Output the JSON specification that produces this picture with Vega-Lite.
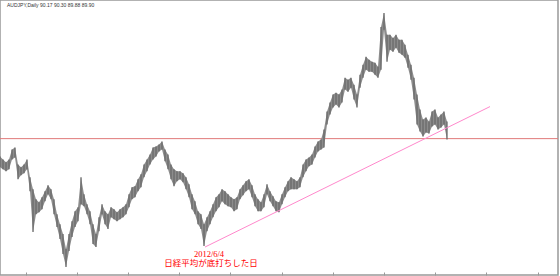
{
  "$schema": "https://vega.github.io/schema/vega-lite/v6.json",
  "width": 560,
  "height": 276,
  "autosize": {"type": "fit", "contains": "padding"},
  "padding": {"left": -1, "top": 0, "right": 1, "bottom": 0},
  "background": "white",
  "config": {"view": {"stroke": "#999999", "strokeWidth": 1.5}},
  "datasets": {
    "bars": [
      {"bar":0,"hi":86.45,"lo":85.01},{"bar":3,"hi":86.06,"lo":84.75},{"bar":6,"hi":85.67,"lo":84.48},{"bar":9,"hi":86.06,"lo":84.75},
      {"bar":12,"hi":87.38,"lo":86.06},{"bar":15,"hi":87.64,"lo":86.32},{"bar":18,"hi":85.40,"lo":83.43},{"bar":21,"hi":85.01,"lo":83.96},
      {"bar":24,"hi":85.40,"lo":84.22},{"bar":27,"hi":86.06,"lo":84.75},{"bar":30,"hi":83.69,"lo":81.85},{"bar":33,"hi":82.12,"lo":76.46},
      {"bar":36,"hi":80.80,"lo":78.83},{"bar":39,"hi":80.41,"lo":79.09},{"bar":42,"hi":81.06,"lo":79.49},{"bar":45,"hi":81.85,"lo":80.54},
      {"bar":48,"hi":82.64,"lo":81.46},{"bar":51,"hi":82.12,"lo":80.80},{"bar":54,"hi":80.80,"lo":78.83},{"bar":57,"hi":78.83,"lo":77.12},
      {"bar":60,"hi":77.51,"lo":75.54},{"bar":63,"hi":76.20,"lo":73.57},{"bar":66,"hi":74.23,"lo":71.86},{"bar":69,"hi":76.20,"lo":73.96},
      {"bar":72,"hi":77.91,"lo":75.80},{"bar":75,"hi":79.22,"lo":77.12},{"bar":78,"hi":79.75,"lo":77.91},{"bar":81,"hi":83.69,"lo":80.14},
      {"bar":84,"hi":81.46,"lo":79.88},{"bar":87,"hi":80.14,"lo":78.83},{"bar":90,"hi":79.22,"lo":77.51},{"bar":93,"hi":77.51,"lo":74.88},
      {"bar":96,"hi":76.20,"lo":74.49},{"bar":99,"hi":78.43,"lo":76.59},{"bar":102,"hi":80.14,"lo":78.83},{"bar":105,"hi":79.22,"lo":77.51},
      {"bar":108,"hi":78.83,"lo":76.86},{"bar":111,"hi":79.75,"lo":78.43},{"bar":114,"hi":79.49,"lo":78.17},{"bar":117,"hi":79.09,"lo":77.91},
      {"bar":120,"hi":79.49,"lo":78.17},{"bar":123,"hi":79.75,"lo":78.43},{"bar":126,"hi":80.14,"lo":78.83},{"bar":129,"hi":81.46,"lo":79.75},
      {"bar":132,"hi":82.38,"lo":80.80},{"bar":135,"hi":82.51,"lo":81.06},{"bar":138,"hi":83.43,"lo":81.85},{"bar":141,"hi":84.09,"lo":82.38},
      {"bar":144,"hi":85.40,"lo":83.69},{"bar":147,"hi":86.06,"lo":84.48},{"bar":150,"hi":86.72,"lo":85.40},{"bar":153,"hi":87.64,"lo":86.06},
      {"bar":156,"hi":87.77,"lo":86.45},{"bar":159,"hi":88.03,"lo":87.11},{"bar":162,"hi":88.43,"lo":87.38},{"bar":165,"hi":87.38,"lo":85.80},
      {"bar":168,"hi":86.72,"lo":84.75},{"bar":171,"hi":85.40,"lo":83.43},{"bar":174,"hi":84.75,"lo":82.51},{"bar":177,"hi":84.48,"lo":83.17},
      {"bar":180,"hi":84.48,"lo":83.43},{"bar":183,"hi":84.22,"lo":83.04},{"bar":186,"hi":83.69,"lo":82.12},{"bar":189,"hi":82.77,"lo":81.06},
      {"bar":192,"hi":81.46,"lo":79.49},{"bar":195,"hi":80.54,"lo":78.83},{"bar":198,"hi":79.22,"lo":77.51},{"bar":201,"hi":78.83,"lo":76.86},
      {"bar":204,"hi":77.51,"lo":74.62},{"bar":207,"hi":78.43,"lo":76.59},{"bar":210,"hi":79.22,"lo":77.51},{"bar":213,"hi":80.14,"lo":78.43},
      {"bar":216,"hi":81.06,"lo":79.22},{"bar":219,"hi":81.46,"lo":79.75},{"bar":222,"hi":82.12,"lo":80.54},{"bar":225,"hi":81.85,"lo":80.14},
      {"bar":228,"hi":81.46,"lo":79.88},{"bar":231,"hi":81.06,"lo":79.75},{"bar":234,"hi":80.80,"lo":79.22},{"bar":237,"hi":81.06,"lo":79.49},
      {"bar":240,"hi":82.12,"lo":80.80},{"bar":243,"hi":82.64,"lo":81.33},{"bar":246,"hi":83.17,"lo":81.85},{"bar":249,"hi":83.43,"lo":82.12},
      {"bar":252,"hi":82.64,"lo":81.06},{"bar":255,"hi":81.46,"lo":79.88},{"bar":258,"hi":80.80,"lo":79.22},{"bar":261,"hi":80.41,"lo":79.22},
      {"bar":264,"hi":81.46,"lo":79.75},{"bar":267,"hi":82.77,"lo":81.46},{"bar":270,"hi":81.85,"lo":80.54},{"bar":273,"hi":81.19,"lo":79.88},
      {"bar":276,"hi":80.54,"lo":79.22},{"bar":279,"hi":80.41,"lo":79.09},{"bar":282,"hi":81.46,"lo":80.14},{"bar":285,"hi":82.38,"lo":81.06},
      {"bar":288,"hi":83.17,"lo":81.85},{"bar":291,"hi":83.69,"lo":82.12},{"bar":294,"hi":83.43,"lo":82.12},{"bar":297,"hi":83.17,"lo":82.12},
      {"bar":300,"hi":83.69,"lo":82.38},{"bar":303,"hi":85.40,"lo":83.69},{"bar":306,"hi":86.06,"lo":84.48},{"bar":309,"hi":86.32,"lo":85.14},
      {"bar":312,"hi":86.72,"lo":85.40},{"bar":315,"hi":87.77,"lo":86.32},{"bar":318,"hi":88.43,"lo":87.11},{"bar":321,"hi":88.69,"lo":87.38},
      {"bar":324,"hi":90.01,"lo":87.64},{"bar":327,"hi":92.37,"lo":90.66},{"bar":330,"hi":93.56,"lo":91.98},{"bar":333,"hi":94.61,"lo":92.90},
      {"bar":336,"hi":94.87,"lo":93.29},{"bar":339,"hi":94.61,"lo":92.90},{"bar":342,"hi":95.27,"lo":93.56},{"bar":345,"hi":96.84,"lo":95.27},
      {"bar":348,"hi":96.58,"lo":95.00},{"bar":351,"hi":96.84,"lo":95.53},{"bar":354,"hi":95.92,"lo":93.95},{"bar":357,"hi":94.61,"lo":92.90},
      {"bar":360,"hi":97.24,"lo":95.53},{"bar":363,"hi":98.55,"lo":96.84},{"bar":366,"hi":99.60,"lo":97.90},{"bar":369,"hi":99.21,"lo":97.63},
      {"bar":372,"hi":98.95,"lo":97.63},{"bar":375,"hi":98.82,"lo":97.24},{"bar":378,"hi":98.29,"lo":96.84},{"bar":381,"hi":103.55,"lo":97.90},
      {"bar":384,"hi":105.39,"lo":103.16},{"bar":387,"hi":102.50,"lo":98.95},{"bar":390,"hi":102.50,"lo":100.53},{"bar":393,"hi":102.10,"lo":100.26},
      {"bar":396,"hi":102.50,"lo":100.79},{"bar":399,"hi":101.84,"lo":100.13},{"bar":402,"hi":101.84,"lo":99.87},{"bar":405,"hi":101.18,"lo":99.47},
      {"bar":408,"hi":99.87,"lo":98.16},{"bar":411,"hi":98.55,"lo":96.58},{"bar":414,"hi":96.84,"lo":93.95},{"bar":417,"hi":94.61,"lo":90.66},
      {"bar":420,"hi":92.63,"lo":89.74},{"bar":423,"hi":91.32,"lo":89.08},{"bar":426,"hi":91.58,"lo":89.61},{"bar":429,"hi":91.06,"lo":89.48},
      {"bar":432,"hi":92.37,"lo":90.40},{"bar":435,"hi":92.63,"lo":90.66},{"bar":438,"hi":91.58,"lo":90.01},{"bar":441,"hi":91.98,"lo":90.27},
      {"bar":444,"hi":92.37,"lo":90.66},{"bar":447,"hi":91.06,"lo":88.69}
    ],
    "trend": [{"bar": 205, "price": 74.49}, {"bar": 490, "price": 93.03}],
    "level": [{"price": 88.8}],
    "notes": [
      {"bar": 209, "price": 73.6, "label": "2012/6/4"},
      {"bar": 211, "price": 72.35, "label": "日経平均が底打ちした日"}
    ],
    "header": [{"bar": 7, "price": 106.5, "label": "AUDJPY,Daily  90.17 90.30 89.88 89.90"}]
  },
  "layer": [
    {
      "data": {"name": "level"},
      "mark": {"type": "rule", "color": "#e07a7a", "strokeWidth": 1},
      "encoding": {
        "y": {"field": "price", "type": "quantitative", "scale": {"domain": [70.8, 107.1], "nice": false, "zero": false}, "axis": null}
      }
    },
    {
      "data": {"name": "bars"},
      "mark": {"type": "area", "color": "#8c8c8c", "opacity": 1, "interpolate": "linear"},
      "encoding": {
        "x": {"field": "bar", "type": "quantitative", "scale": {"domain": [0, 558], "nice": false, "zero": false},
              "axis": {"values": [25.6, 51.2, 76.8, 102.4, 128, 153.6, 179.2, 204.8, 230.4, 256, 281.6, 307.2, 332.8, 358.4, 384, 409.6, 435.2, 460.8, 486.4, 512, 537.6],
                       "labels": false, "domain": false, "grid": false, "tickSize": 3, "tickColor": "#999999", "offset": -3, "title": null}},
        "y": {"field": "hi", "type": "quantitative"},
        "y2": {"field": "lo"}
      }
    },
    {
      "data": {"name": "bars"},
      "mark": {"type": "rule", "color": "#6a6a6a", "strokeWidth": 1.3},
      "encoding": {
        "x": {"field": "bar", "type": "quantitative"},
        "y": {"field": "hi", "type": "quantitative"},
        "y2": {"field": "lo"}
      }
    },
    {
      "data": {"name": "trend"},
      "mark": {"type": "line", "color": "#ff88cc", "strokeWidth": 1},
      "encoding": {
        "x": {"field": "bar", "type": "quantitative"},
        "y": {"field": "price", "type": "quantitative"}
      }
    },
    {
      "data": {"name": "notes"},
      "mark": {"type": "text", "color": "#ff0000", "fontSize": 8.5, "font": "'Liberation Serif', 'Noto Sans CJK JP'", "align": "center", "baseline": "middle"},
      "encoding": {
        "x": {"field": "bar", "type": "quantitative"},
        "y": {"field": "price", "type": "quantitative"},
        "text": {"field": "label"}
      }
    },
    {
      "data": {"name": "header"},
      "mark": {"type": "text", "color": "#333333", "fontSize": 5, "font": "Liberation Sans", "align": "left", "baseline": "middle"},
      "encoding": {
        "x": {"field": "bar", "type": "quantitative"},
        "y": {"field": "price", "type": "quantitative"},
        "text": {"field": "label"}
      }
    }
  ]
}
